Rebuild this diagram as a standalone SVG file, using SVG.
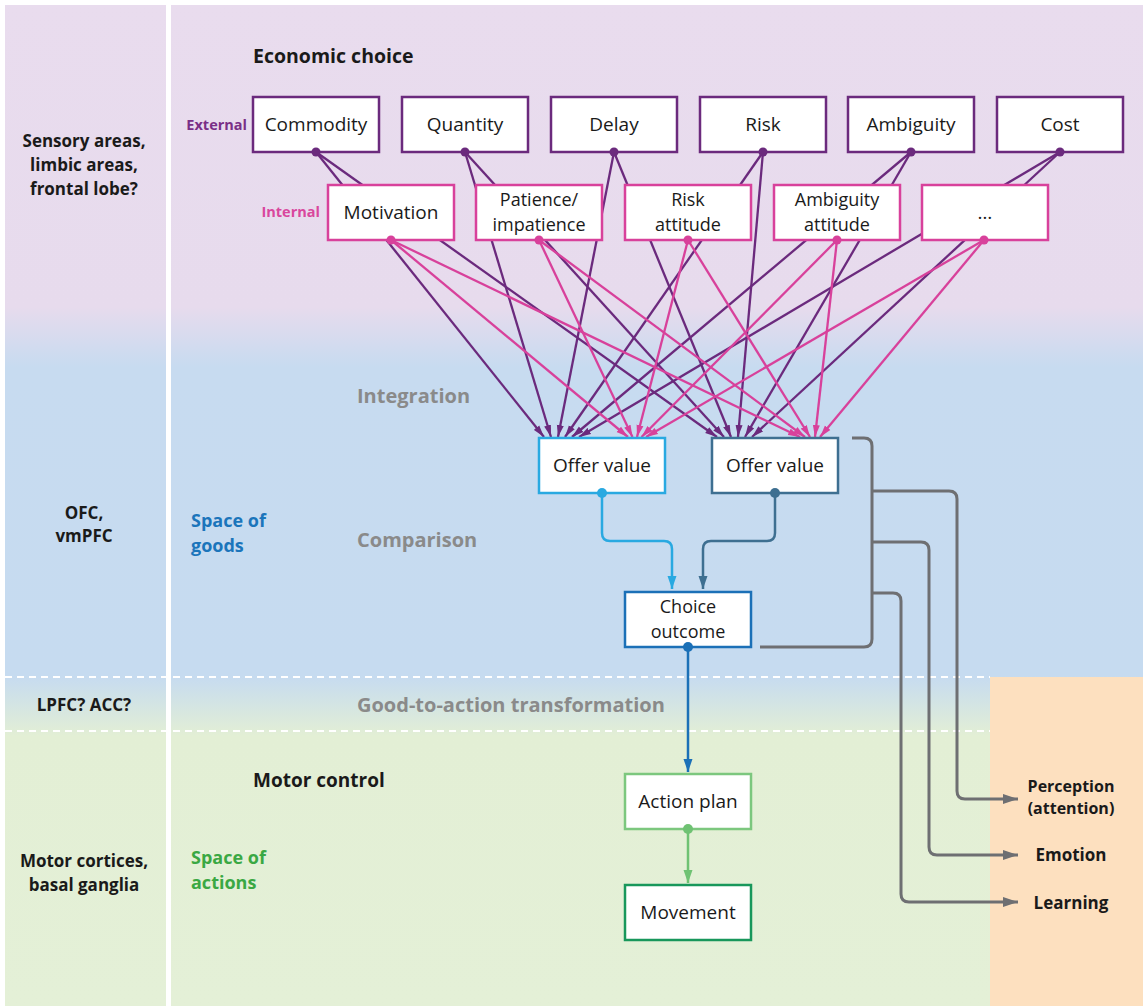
<svg xmlns="http://www.w3.org/2000/svg" width="1143" height="1006" viewBox="0 0 1143 1006">
<defs>
<linearGradient id="bg" x1="0" y1="0" x2="0" y2="1006" gradientUnits="userSpaceOnUse">
<stop offset="0" stop-color="#e9dcee"/>
<stop offset="0.305" stop-color="#e7dbed"/>
<stop offset="0.365" stop-color="#c7dbf0"/>
<stop offset="0.672" stop-color="#c6dbf0"/>
<stop offset="0.732" stop-color="#e3efd5"/>
<stop offset="1" stop-color="#e4f0d7"/>
</linearGradient>
<marker id="ap" markerUnits="userSpaceOnUse" markerWidth="13" markerHeight="8" refX="12" refY="4" orient="auto"><path d="M0,0.5 L12,4 L0,7.5 Z" fill="#6b2a7d"/></marker>
<marker id="ak" markerUnits="userSpaceOnUse" markerWidth="13" markerHeight="8" refX="12" refY="4" orient="auto"><path d="M0,0.5 L12,4 L0,7.5 Z" fill="#d8419b"/></marker>
<marker id="ab1" markerUnits="userSpaceOnUse" markerWidth="14" markerHeight="10" refX="13" refY="5" orient="auto"><path d="M0,0.5 L13,5 L0,9.5 Z" fill="#29a9e1"/></marker>
<marker id="ab2" markerUnits="userSpaceOnUse" markerWidth="14" markerHeight="10" refX="13" refY="5" orient="auto"><path d="M0,0.5 L13,5 L0,9.5 Z" fill="#3e6f91"/></marker>
<marker id="ab3" markerUnits="userSpaceOnUse" markerWidth="14" markerHeight="10" refX="13" refY="5" orient="auto"><path d="M0,0.5 L13,5 L0,9.5 Z" fill="#1b70b7"/></marker>
<marker id="ag" markerUnits="userSpaceOnUse" markerWidth="14" markerHeight="10" refX="13" refY="5" orient="auto"><path d="M0,0.5 L13,5 L0,9.5 Z" fill="#6fc273"/></marker>
<marker id="ay" markerUnits="userSpaceOnUse" markerWidth="16" markerHeight="12" refX="15" refY="6" orient="auto"><path d="M0,1 L15,6 L0,11 Z" fill="#6e6f72"/></marker>
</defs>
<style>
.t{font-family:"Open Sans","Noto Sans",sans-serif;fill:#1a1a1a}
.bx{font-size:19px;text-anchor:middle}
.b2{font-size:18px;text-anchor:middle}
.b{font-weight:bold}
.lab{font-size:17px;font-weight:bold;text-anchor:middle}
.gray{font-size:20px;font-weight:bold;fill:#8a8a8a}
.box{fill:#ffffff;stroke-width:2.5}
.ext{stroke:#6b2a7d}
.int{stroke:#d8419b}
.fp{stroke:#6b2a7d;stroke-width:2.3;fill:none;marker-end:url(#ap)}
.fk{stroke:#d8419b;stroke-width:2.3;fill:none;marker-end:url(#ak)}
.gy{stroke:#6e6f72;stroke-width:3;fill:none}
.dash{stroke:#ffffff;stroke-width:2;stroke-dasharray:7 5}
</style>
<rect x="0" y="0" width="1143" height="1006" fill="#ffffff"/>
<rect x="5" y="5" width="1138" height="1001" fill="url(#bg)"/>
<rect x="990" y="677" width="153" height="329" fill="#fde0bf"/>
<rect x="166" y="0" width="5" height="1006" fill="#ffffff"/>
<line class="dash" x1="5" y1="677" x2="990" y2="677"/>
<line class="dash" x1="5" y1="731" x2="990" y2="731"/>

<g id="region-labels">
<text class="t lab" x="84" y="147">Sensory areas,<tspan x="84" dy="24">limbic areas,</tspan><tspan x="84" dy="24">frontal lobe?</tspan></text>
<text class="t lab" x="84" y="519">OFC,<tspan x="84" dy="23.4">vmPFC</tspan></text>
<text class="t lab" x="84" y="711">LPFC? ACC?</text>
<text class="t lab" x="84" y="867">Motor cortices,<tspan x="84" dy="24">basal ganglia</tspan></text>
</g>

<g id="stage-labels">
<text class="t b" x="253" y="63" font-size="19.5">Economic choice</text>
<text class="t b" x="247" y="130" font-size="14.5" text-anchor="end" style="fill:#7a2f87">External</text>
<text class="t b" x="320" y="217" font-size="14.5" text-anchor="end" style="fill:#d9479d">Internal</text>
<text class="t gray" x="357" y="403">Integration</text>
<text class="t gray" x="357" y="547">Comparison</text>
<text class="t gray" x="357" y="712">Good-to-action transformation</text>
<text class="t b" x="191" y="527" font-size="18" style="fill:#1b75bb">Space of<tspan x="191" dy="24.6">goods</tspan></text>
<text class="t b" x="253" y="787" font-size="19">Motor control</text>
<text class="t b" x="191" y="864" font-size="18" style="fill:#3aa843">Space of<tspan x="191" dy="24.6">actions</tspan></text>
</g>

<g id="connectors">
<line class="fp" x1="316" y1="152" x2="544" y2="437"/>
<line class="fp" x1="465" y1="152" x2="551" y2="437"/>
<line class="fp" x1="614" y1="152" x2="558" y2="437"/>
<line class="fp" x1="763" y1="152" x2="565" y2="437"/>
<line class="fp" x1="911" y1="152" x2="572" y2="437"/>
<line class="fp" x1="1060" y1="152" x2="579" y2="437"/>
<line class="fp" x1="316" y1="152" x2="717" y2="437"/>
<line class="fp" x1="465" y1="152" x2="724" y2="437"/>
<line class="fp" x1="614" y1="152" x2="731" y2="437"/>
<line class="fp" x1="763" y1="152" x2="738" y2="437"/>
<line class="fp" x1="911" y1="152" x2="745" y2="437"/>
<line class="fp" x1="1060" y1="152" x2="752" y2="437"/>
<line class="fk" x1="391" y1="240" x2="628" y2="437"/>
<line class="fk" x1="539" y1="240" x2="632.5" y2="437"/>
<line class="fk" x1="688" y1="240" x2="637" y2="437"/>
<line class="fk" x1="837" y1="240" x2="641.5" y2="437"/>
<line class="fk" x1="984" y1="240" x2="646" y2="437"/>
<line class="fk" x1="391" y1="240" x2="800" y2="437"/>
<line class="fk" x1="539" y1="240" x2="805" y2="437"/>
<line class="fk" x1="688" y1="240" x2="810" y2="437"/>
<line class="fk" x1="837" y1="240" x2="815" y2="437"/>
<line class="fk" x1="984" y1="240" x2="820" y2="437"/>
<path d="M602,493 V533 Q602,541 610,541 H664 Q672,541 672,549 V589" fill="none" stroke="#29a9e1" stroke-width="2.5" marker-end="url(#ab1)"/>
<path d="M775,493 V533 Q775,541 767,541 H711 Q703,541 703,549 V589" fill="none" stroke="#3e6f91" stroke-width="2.5" marker-end="url(#ab2)"/>
<line x1="688" y1="647" x2="688" y2="772" stroke="#1b70b7" stroke-width="2.5" marker-end="url(#ab3)"/>
<line x1="688" y1="829" x2="688" y2="883" stroke="#6fc273" stroke-width="2.5" marker-end="url(#ag)"/>
<path class="gy" d="M852,438 H864 Q872,438 872,446 V639 Q872,647 864,647 H760"/>
<path class="gy" d="M872,491 H949 Q957,491 957,499 V791 Q957,799 965,799 H1018" marker-end="url(#ay)"/>
<path class="gy" d="M872,542 H921 Q929,542 929,550 V847 Q929,855 937,855 H1018" marker-end="url(#ay)"/>
<path class="gy" d="M872,593 H893 Q901,593 901,601 V894 Q901,902 909,902 H1018" marker-end="url(#ay)"/>
</g>

<g id="node-commodity"><rect class="box ext" x="253" y="97" width="126" height="55"/><text class="t bx" x="316" y="131">Commodity</text><circle cx="316" cy="152" r="4.5" fill="#6b2a7d"/></g>
<g id="node-quantity"><rect class="box ext" x="402" y="97" width="126" height="55"/><text class="t bx" x="465" y="131">Quantity</text><circle cx="465" cy="152" r="4.5" fill="#6b2a7d"/></g>
<g id="node-delay"><rect class="box ext" x="551" y="97" width="126" height="55"/><text class="t bx" x="614" y="131">Delay</text><circle cx="614" cy="152" r="4.5" fill="#6b2a7d"/></g>
<g id="node-risk"><rect class="box ext" x="700" y="97" width="126" height="55"/><text class="t bx" x="763" y="131">Risk</text><circle cx="763" cy="152" r="4.5" fill="#6b2a7d"/></g>
<g id="node-ambiguity"><rect class="box ext" x="848" y="97" width="126" height="55"/><text class="t bx" x="911" y="131">Ambiguity</text><circle cx="911" cy="152" r="4.5" fill="#6b2a7d"/></g>
<g id="node-cost"><rect class="box ext" x="997" y="97" width="126" height="55"/><text class="t bx" x="1060" y="131">Cost</text><circle cx="1060" cy="152" r="4.5" fill="#6b2a7d"/></g>

<g id="node-motivation"><rect class="box int" x="328" y="185" width="126" height="55"/><text class="t bx" x="391" y="219">Motivation</text><circle cx="391" cy="240" r="4.5" fill="#d8419b"/></g>
<g id="node-patience"><rect class="box int" x="476" y="185" width="126" height="55"/><text class="t b2" x="539" y="206">Patience/<tspan x="539" dy="24.6">impatience</tspan></text><circle cx="539" cy="240" r="4.5" fill="#d8419b"/></g>
<g id="node-risk-attitude"><rect class="box int" x="625" y="185" width="126" height="55"/><text class="t b2" x="688" y="206">Risk<tspan x="688" dy="24.6">attitude</tspan></text><circle cx="688" cy="240" r="4.5" fill="#d8419b"/></g>
<g id="node-ambiguity-attitude"><rect class="box int" x="774" y="185" width="126" height="55"/><text class="t b2" x="837" y="206">Ambiguity<tspan x="837" dy="24.6">attitude</tspan></text><circle cx="837" cy="240" r="4.5" fill="#d8419b"/></g>
<g id="node-etc"><rect class="box int" x="922" y="185" width="126" height="55"/><text class="t bx" x="985" y="219" font-size="14">…</text><circle cx="984" cy="240" r="4.5" fill="#d8419b"/></g>

<g id="node-offer-value-1"><rect class="box" x="539" y="438" width="126" height="55" stroke="#29a9e1"/><text class="t bx" x="602" y="472">Offer value</text><circle cx="602" cy="493" r="5" fill="#29a9e1"/></g>
<g id="node-offer-value-2"><rect class="box" x="712" y="438" width="126" height="55" stroke="#3e6f91"/><text class="t bx" x="775" y="472">Offer value</text><circle cx="775" cy="493" r="5" fill="#3e6f91"/></g>
<g id="node-choice-outcome"><rect class="box" x="625" y="592" width="126" height="55" stroke="#1b70b7"/><text class="t b2" x="688" y="613">Choice<tspan x="688" dy="24.6">outcome</tspan></text><circle cx="688" cy="647" r="5" fill="#1b70b7"/></g>
<g id="node-action-plan"><rect class="box" x="625" y="774" width="126" height="55" stroke="#7cc77e"/><text class="t bx" x="688" y="808">Action plan</text><circle cx="688" cy="829" r="5" fill="#6fc273"/></g>
<g id="node-movement"><rect class="box" x="625" y="885" width="126" height="55" stroke="#18975b"/><text class="t bx" x="688" y="919">Movement</text></g>

<g id="node-perception"><text class="t b" x="1071" y="792" font-size="16" text-anchor="middle">Perception<tspan x="1071" dy="21.9">(attention)</tspan></text></g>
<g id="node-emotion"><text class="t lab" x="1071" y="861">Emotion</text></g>
<g id="node-learning"><text class="t lab" x="1071" y="909">Learning</text></g>
</svg>
